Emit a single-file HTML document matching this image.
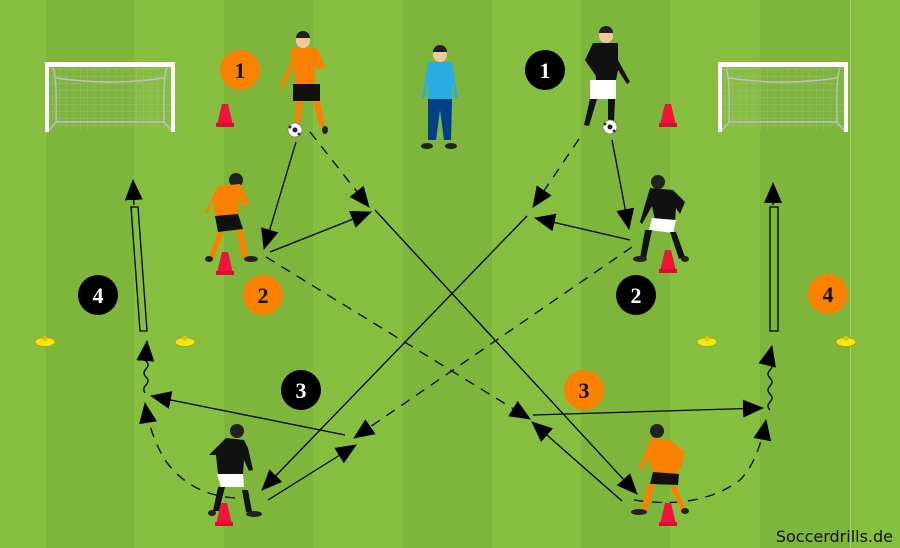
<!DOCTYPE html>
<html><head><meta charset="utf-8">
<style>html,body{margin:0;padding:0;background:#84bd3f}svg{display:block}</style>
</head><body>
<svg width="900" height="548" viewBox="0 0 900 548" xmlns="http://www.w3.org/2000/svg" font-family="Liberation Serif, serif">
<defs>
<marker id="a" markerWidth="22" markerHeight="20" refX="20" refY="9" orient="auto" markerUnits="userSpaceOnUse"><path d="M0,0 L21,9 L0,18 z" fill="#000"/></marker>
<pattern id="net" width="7" height="7" patternUnits="userSpaceOnUse"><path d="M7,0 L0,0 0,7" fill="none" stroke="#a9b3a0" stroke-width="0.7"/></pattern>
<g id="goal">
<rect x="4" y="6" width="122" height="62" fill="url(#net)"/>
<path d="M8,6 Q12,14 11,60 L4,68 M122,6 Q118,14 119,60 L126,68 M11,16 Q65,24 119,16 M11,60 L119,60" fill="none" stroke="#c0c0c0" stroke-width="1.4"/>
<rect x="0" y="0" width="130" height="5" fill="#fff"/>
<rect x="0" y="0" width="4" height="70" fill="#fff"/>
<rect x="126" y="0" width="4" height="70" fill="#fff"/>
</g>
<g id="cone"><path d="M-3,-16 L3,-16 L8,5 L-8,5 z" fill="#f0143c"/><rect x="-9" y="3" width="18" height="4" fill="#d80f30"/></g>
<g id="disc"><ellipse cx="0" cy="2" rx="10" ry="4.5" fill="#f2e614" stroke="#a89a00" stroke-width="0.8"/><circle cx="0" cy="-1.5" r="2.5" fill="#d8c800"/></g>
<g id="ball"><circle r="7" fill="#fff" stroke="#777" stroke-width="0.8"/><circle r="2.5" fill="#222"/><circle cx="-5" cy="-3" r="1.5" fill="#333"/><circle cx="4" cy="4" r="1.5" fill="#333"/></g>
</defs>
<rect width="900" height="548" fill="#86bf40"/>
<g fill="#7db63a">
<rect x="46" y="0" width="88" height="548"/><rect x="224" y="0" width="89" height="548"/><rect x="403" y="0" width="89" height="548"/><rect x="581" y="0" width="89" height="548"/><rect x="760" y="0" width="90" height="548"/>
</g>
<rect x="850" y="0" width="1" height="548" fill="#a6d070"/>
<use href="#goal" x="45" y="62"/>
<use href="#goal" x="718" y="62"/>
<use href="#cone" x="225" y="120"/><use href="#cone" x="668" y="120"/>
<use href="#cone" x="225" y="268"/><use href="#cone" x="668" y="266"/>
<use href="#cone" x="224" y="519"/><use href="#cone" x="668" y="519"/>
<use href="#disc" x="45" y="340"/><use href="#disc" x="185" y="340"/>
<use href="#disc" x="707" y="340"/><use href="#disc" x="846" y="340"/>

<g stroke="#000" stroke-width="1.3" fill="none">
<line x1="296" y1="142" x2="264" y2="249" marker-end="url(#a)"/>
<line x1="310" y1="132" x2="369" y2="207" stroke-dasharray="10,8" marker-end="url(#a)"/>
<line x1="270" y1="252" x2="371" y2="212" marker-end="url(#a)"/>
<line x1="375" y1="210" x2="637" y2="494" marker-end="url(#a)"/>
<line x1="266" y1="257" x2="530" y2="419" stroke-dasharray="10,8" marker-end="url(#a)"/>
<line x1="533" y1="415" x2="763" y2="408" marker-end="url(#a)"/>
<line x1="622" y1="501" x2="532" y2="422" marker-end="url(#a)"/>
<path d="M634,500 Q700,510 740,480 Q758,462 766,420" stroke-dasharray="10,8" marker-end="url(#a)"/>
<path d="M770,410 q-4,-4 0,-8 q4,-4 0,-8 q-4,-4 0,-8 q4,-4 0,-8 q-4,-4 0,-8 q4,-4 0,-8 q-4,-4 0,-8 l2,-8" marker-end="url(#a)"/>
<path d="M770,207 L778,207 L778,331 L770,331 z"/>
<line x1="773" y1="205" x2="773" y2="183" marker-end="url(#a)"/>

<line x1="579" y1="139" x2="533" y2="207" stroke-dasharray="10,8" marker-end="url(#a)"/>
<line x1="612" y1="140" x2="629" y2="229" marker-end="url(#a)"/>
<line x1="630" y1="240" x2="535" y2="218" marker-end="url(#a)"/>
<line x1="527" y1="216" x2="262" y2="490" marker-end="url(#a)"/>
<line x1="632" y1="247" x2="354" y2="438" stroke-dasharray="10,8" marker-end="url(#a)"/>
<line x1="345" y1="435" x2="151" y2="396" marker-end="url(#a)"/>
<line x1="268" y1="500" x2="356" y2="445" marker-end="url(#a)"/>
<path d="M235,498 Q190,495 165,460 Q150,435 145,403" stroke-dasharray="10,8" marker-end="url(#a)"/>
<path d="M145,393 q-3,-4 1,-8 q4,-4 0,-8 q-4,-4 0,-8 q4,-4 0,-8 q-4,-4 0,-8 l1,-12" marker-end="url(#a)"/>
<path d="M131,207 L138,207 L147,331 L140,331 z"/>
<line x1="134" y1="205" x2="133" y2="180" marker-end="url(#a)"/>
</g>

<g>
<circle cx="303" cy="41" r="7" fill="#f2c79a"/><path d="M296,38 a7,7 0 0 1 14,0z" fill="#222"/>
<path d="M291,48 L317,48 L325,66 L318,70 L315,64 L315,84 L295,84 L295,66 L282,88 L279,87 L291,62 z" fill="#f98000"/>
<rect x="293" y="84" width="27" height="17" fill="#111"/>
<path d="M296,101 L302,101 L300,124 L295,124 z M313,101 L320,101 L325,126 L320,127 z" fill="#f98000"/>
<use href="#ball" x="295" y="130"/>
<ellipse cx="325" cy="130" rx="3" ry="4" fill="#222"/>
</g>
<g>
<circle cx="440" cy="55" r="7" fill="#f2c79a"/><path d="M433,52 a7,7 0 0 1 14,0z" fill="#222"/>
<path d="M428,62 L452,62 L458,98 L455,98 L452,80 L452,99 L428,99 L428,80 L425,98 L422,98 z" fill="#2aaee2"/>
<path d="M428,99 L452,99 L451,140 L444,140 L440,110 L436,140 L428,140 z" fill="#003f8a"/>
<ellipse cx="427" cy="146" rx="6" ry="3" fill="#222"/><ellipse cx="451" cy="146" rx="6" ry="3" fill="#222"/>
</g>
<g>
<circle cx="606" cy="36" r="7" fill="#f2c79a"/><path d="M599,33 a7,7 0 0 1 14,0z" fill="#222"/>
<path d="M593,43 L618,43 L618,60 L630,82 L627,84 L618,70 L616,80 L596,80 L595,64 L599,75 L596,76 L585,60 z" fill="#111"/>
<rect x="590" y="80" width="26" height="19" fill="#fff"/>
<path d="M590,99 L597,99 L589,126 L584,125 z M608,99 L615,99 L614,122 L608,122 z" fill="#111"/>
<use href="#ball" x="610" y="127"/>
</g>
<g>
<circle cx="236" cy="180" r="7" fill="#222"/>
<path d="M218,186 L240,184 L250,204 L244,206 L240,198 L238,215 L216,218 L212,200 L208,214 L205,212 z" fill="#f98000"/>
<path d="M215,216 L238,214 L243,229 L218,232 z" fill="#111"/>
<path d="M218,232 L224,232 L214,258 L209,256 z M236,230 L243,230 L248,258 L242,258 z" fill="#f98000"/>
<ellipse cx="251" cy="259" rx="7" ry="3" fill="#222"/><ellipse cx="209" cy="259" rx="4" ry="3" fill="#222"/>
</g>
<g>
<circle cx="658" cy="182" r="7" fill="#222"/>
<path d="M650,188 L673,190 L685,202 L680,214 L676,208 L675,222 L655,220 L652,206 L642,224 L640,222 z" fill="#111"/>
<path d="M652,218 L676,220 L673,233 L649,230 z" fill="#fff"/>
<path d="M645,230 L652,230 L646,258 L640,258 z M670,232 L676,232 L685,257 L679,259 z" fill="#111"/>
<ellipse cx="640" cy="259" rx="7" ry="3" fill="#222"/><ellipse cx="685" cy="259" rx="4" ry="3" fill="#222"/>
</g>
<g>
<circle cx="237" cy="431" r="7" fill="#222"/>
<path d="M226,438 L244,440 L248,448 L253,470 L249,471 L244,460 L243,474 L218,474 L216,455 L209,455 L212,452 z" fill="#111"/>
<path d="M217,474 L243,474 L244,487 L221,487 z" fill="#fff"/>
<path d="M218,487 L225,487 L219,511 L213,511 z M242,490 L248,490 L252,512 L246,512 z" fill="#111"/>
<ellipse cx="254" cy="514" rx="8" ry="3" fill="#222"/><ellipse cx="212" cy="513" rx="4" ry="3" fill="#222"/>
</g>
<g>
<circle cx="657" cy="431" r="7" fill="#222"/>
<path d="M651,438 L670,440 L685,452 L680,470 L676,467 L678,458 L678,474 L653,472 L648,458 L642,470 L639,468 z" fill="#f98000"/>
<path d="M653,472 L679,474 L678,485 L650,484 z" fill="#111"/>
<path d="M648,484 L655,484 L647,510 L641,510 z M670,486 L676,486 L686,510 L681,511 z" fill="#f98000"/>
<ellipse cx="639" cy="512" rx="8" ry="3" fill="#222"/><ellipse cx="685" cy="511" rx="4" ry="3" fill="#222"/>
</g>

<g font-weight="bold" font-size="22" text-anchor="middle">
<circle cx="240" cy="70" r="20" fill="#f98000"/><text x="240" y="78" fill="#111">1</text>
<circle cx="545" cy="70" r="20" fill="#000"/><text x="545" y="78" fill="#fff">1</text>
<circle cx="263" cy="295" r="20" fill="#f98000"/><text x="263" y="303" fill="#111">2</text>
<circle cx="636" cy="295" r="20" fill="#000"/><text x="636" y="303" fill="#fff">2</text>
<circle cx="98" cy="295" r="20" fill="#000"/><text x="98" y="303" fill="#fff">4</text>
<circle cx="828" cy="294" r="20" fill="#f98000"/><text x="828" y="302" fill="#111">4</text>
<circle cx="301" cy="390" r="20" fill="#000"/><text x="301" y="398" fill="#fff">3</text>
<circle cx="584" cy="390" r="20" fill="#f98000"/><text x="584" y="398" fill="#111">3</text>
</g>
<text x="893" y="542" font-family="DejaVu Sans, sans-serif" font-size="16" text-anchor="end" fill="#111">Soccerdrills.de</text>
</svg>
</body></html>
